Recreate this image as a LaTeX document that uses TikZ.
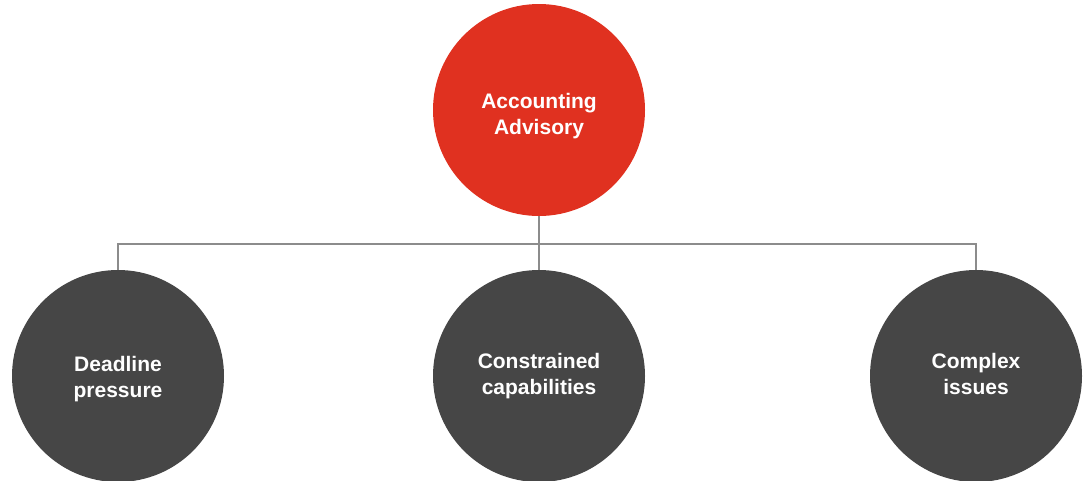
\documentclass[tikz,border=0pt]{standalone}
\usepackage{fontspec}
\setmainfont{Liberation Sans}
\usetikzlibrary{positioning}
\definecolor{AdvisoryRed}{HTML}{E03120}
\definecolor{IssueGray}{HTML}{464646}
\definecolor{LinkGray}{HTML}{8C8C8C}
\begin{document}
\begin{tikzpicture}[x=1pt,y=-1pt,
		BubbleFont/.style={align=center, text=white, font=\fontsize{21}{26}\selectfont\bfseries},
		Bubble/.style={circle, minimum size=212pt, inner sep=0pt, BubbleFont},
		Link/.style={LinkGray, line width=2pt}]
			\pgfmathsetmacro{\TopRow}{110}
			\pgfmathsetmacro{\BottomRow}{376}
			\pgfmathsetmacro{\BarRow}{244}
			\useasboundingbox (0,0) rectangle (1086,480);
			
			% TOP
			\node[Bubble, fill=AdvisoryRed,
				label={[BubbleFont, yshift=-6pt]center:Accounting\\Advisory}] (Advisory) at (539,\TopRow) {};
			
			% BOTTOM ROW
			\node[Bubble, fill=IssueGray,
				label={[BubbleFont, yshift=-3pt]center:Deadline\\pressure}] (Deadline) at (118,\BottomRow) {};
			\node[Bubble, fill=IssueGray] (Capabilities) at (539,\BottomRow) {Constrained\\capabilities};
			\node[Bubble, fill=IssueGray,
				label={[BubbleFont, yshift=2pt]center:Complex\\issues}] (Issues) at (976,\BottomRow) {};
			
			% LINKS
			\coordinate (Junction) at (539,\BarRow);
			\draw[Link] (Advisory.south) -- (Junction) -- (Capabilities.north);
			\draw[Link] (Deadline.north) |- (Junction) -| (Issues.north);
		\end{tikzpicture}
\end{document}
